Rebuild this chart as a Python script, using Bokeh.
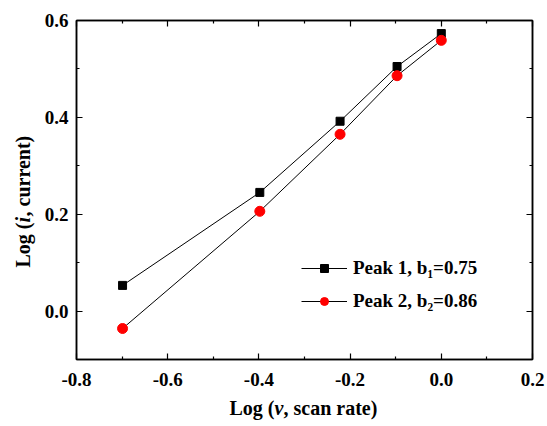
from bokeh.plotting import figure
from bokeh.models import LinearAxis, Range1d, Legend, LegendItem, FixedTicker, PrintfTickFormatter, Title
from bokeh.embed import file_html
from bokeh.resources import INLINE

log_scan_rate = [-0.699, -0.398, -0.222, -0.097, 0.0]
peak1 = [0.053, 0.245, 0.392, 0.505, 0.573]
peak2 = [-0.036, 0.206, 0.365, 0.486, 0.559]
x_ticks = [-0.8, -0.6, -0.4, -0.2, 0.0, 0.2]
x_minor = [-0.7, -0.5, -0.3, -0.1, 0.1]
y_ticks = [0.0, 0.2, 0.4, 0.6]
y_minor = [-0.1, 0.1, 0.3, 0.5]
label1 = "Peak 1, b\u2081=0.75"
label2 = "Peak 2, b\u2082=0.86"
x_title = [("Log (", "bold"), ("v", "bold italic"), (", scan rate)", "bold")]
y_title = [("Log (", "bold"), ("i", "bold italic"), (", current)", "bold")]

FONT = "Liberation Serif"

p = figure(width=547, height=426, output_backend="svg", toolbar_location=None,
           x_range=Range1d(-0.8, 0.2), y_range=Range1d(-0.1, 0.6),
           min_border_left=76, min_border_right=15, min_border_top=20, min_border_bottom=67,
           x_axis_location=None, y_axis_location=None)
p.grid.visible = False
p.outline_line_color = "black"
p.outline_line_width = 1.5
p.background_fill_color = "white"
p.border_fill_color = "white"

def style(ax, show_labels):
    ax.major_tick_in = 6
    ax.major_tick_out = 0
    ax.minor_tick_in = 3
    ax.minor_tick_out = 0
    ax.axis_line_width = 1.5
    ax.major_tick_line_width = 1.2
    ax.minor_tick_line_width = 1.2
    ax.major_label_text_font = FONT
    ax.major_label_text_font_style = "bold"
    ax.major_label_text_font_size = "19px"
    ax.major_label_text_color = "black"
    ax.major_label_standoff = 8
    ax.formatter = PrintfTickFormatter(format="%.1f")
    if not show_labels:
        ax.major_label_overrides = {t: "" for t in ax.ticker.ticks}

xb = LinearAxis(ticker=FixedTicker(ticks=x_ticks, minor_ticks=x_minor))
style(xb, True)
xb.major_label_standoff = 13
p.add_layout(xb, "below")
yl = LinearAxis(ticker=FixedTicker(ticks=y_ticks, minor_ticks=y_minor))
style(yl, True)
p.add_layout(yl, "left")
xt = LinearAxis(ticker=FixedTicker(ticks=x_ticks, minor_ticks=x_minor))
style(xt, False)
p.add_layout(xt, "above")
yr = LinearAxis(ticker=FixedTicker(ticks=y_ticks, minor_ticks=y_minor))
style(yr, False)
p.add_layout(yr, "right")

l1 = p.line(log_scan_rate, peak1, line_color="black", line_width=1)
m1 = p.scatter(log_scan_rate, peak1, marker="square", size=8, fill_color="black", line_color="black")
l2 = p.line(log_scan_rate, peak2, line_color="black", line_width=1)
m2 = p.scatter(log_scan_rate, peak2, marker="circle", size=10, fill_color="red", line_color="red")

legend = Legend(items=[LegendItem(label=label1, renderers=[l1, m1]),
                       LegendItem(label=label2, renderers=[l2, m2])],
                location=(225, 47), padding=0, margin=0, spacing=11,
                glyph_width=46, glyph_height=20, label_height=20, label_standoff=6,
                border_line_alpha=0, background_fill_alpha=0,
                label_text_font=FONT, label_text_font_style="bold",
                label_text_font_size="19px", label_text_color="black")
p.add_layout(legend, "center")

# axis titles: pieces laid side by side as zero-height titles in the side panels
x_offsets = [153, 198, 207]
for (txt, st), off in zip(x_title, x_offsets):
    p.add_layout(Title(text=txt, align="left", vertical_align="bottom", offset=off,
                       standoff=-61, text_font=FONT, text_font_style=st,
                       text_font_size="20px", text_color="black"), "below")

y_offsets = [92, 137, 143]
for (txt, st), off in zip(y_title, y_offsets):
    p.add_layout(Title(text=txt, align="left", vertical_align="top", offset=off,
                       standoff=-59, text_font=FONT, text_font_style=st,
                       text_font_size="20px", text_color="black"), "left")

open("out.html", "w").write(file_html(p, INLINE))
